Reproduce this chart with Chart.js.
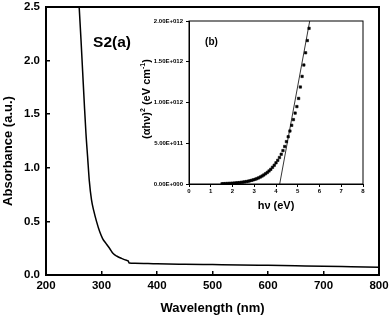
<!DOCTYPE html>
<html><head><meta charset="utf-8">
<script src="https://cdn.jsdelivr.net/npm/chart.js@4.4.0/dist/chart.umd.min.js"></script>
<style>
html,body{margin:0;padding:0;background:#fff;}
#wrap{position:relative;width:390px;height:317px;overflow:hidden;}
#main{position:absolute;left:0;top:0;}
#inset{position:absolute;left:128px;top:8px;}
</style></head><body>
<div id="wrap"><canvas id="main" width="390" height="317"></canvas><canvas id="inset" width="250" height="212"></canvas></div>
<script>
// ---- main panel: absorbance spectrum ----
const wavelength = [257, 260, 263, 266, 269, 272, 275, 278, 282, 286, 291, 297, 302, 308, 315, 321, 328, 336, 345, 348, 350, 360, 400, 450, 500, 550, 600, 650, 700, 750, 800];
const absorbance = [2.72, 2.48, 2.2, 1.9, 1.6, 1.32, 1.1, 0.88, 0.7, 0.6, 0.5, 0.4, 0.34, 0.295, 0.245, 0.2, 0.175, 0.155, 0.137, 0.132, 0.112, 0.11, 0.104, 0.1, 0.097, 0.094, 0.09, 0.086, 0.082, 0.077, 0.072];

// ---- inset: Tauc plot ----
const photonEnergy = [1.52, 1.60, 1.68, 1.76, 1.84, 1.92, 2.00, 2.08, 2.16, 2.24, 2.32, 2.40, 2.48, 2.56, 2.64, 2.72, 2.80, 2.88, 2.96, 3.04, 3.12, 3.20, 3.28, 3.36, 3.44, 3.52, 3.60, 3.68, 3.76, 3.84, 3.92, 4.00, 4.08, 4.16, 4.24, 4.32, 4.40, 4.48, 4.56, 4.64, 4.72, 4.80, 4.88, 4.96, 5.04, 5.12, 5.20, 5.28, 5.36, 5.44, 5.52];
const alphaHvSquared = [0.03e11, 0.04e11, 0.05e11, 0.06e11, 0.07e11, 0.08e11, 0.10e11, 0.11e11, 0.13e11, 0.15e11, 0.17e11, 0.20e11, 0.23e11, 0.26e11, 0.30e11, 0.34e11, 0.39e11, 0.45e11, 0.51e11, 0.58e11, 0.66e11, 0.75e11, 0.86e11, 0.98e11, 1.11e11, 1.26e11, 1.42e11, 1.60e11, 1.80e11, 2.05e11, 2.30e11, 2.60e11, 2.90e11, 3.25e11, 3.65e11, 4.10e11, 4.60e11, 5.20e11, 5.80e11, 6.50e11, 7.20e11, 7.90e11, 8.70e11, 9.50e11, 10.5e11, 11.9e11, 13.2e11, 14.6e11, 16.1e11, 17.6e11, 19.1e11];
const fitEnergy = [4.17, 5.55];
const fitValue = [0, 2.0e12];

const FONT = 'Liberation Sans, Arial, sans-serif';

function framePlugin(width) {
  return {
    id: 'frame' + width,
    afterDraw(chart) {
      const {ctx, chartArea: a} = chart;
      ctx.save();
      ctx.strokeStyle = '#000';
      ctx.lineWidth = width;
      ctx.strokeRect(a.left, a.top, a.right - a.left, a.bottom - a.top);
      ctx.restore();
    }
  };
}

function drawRich(ctx, x, y, rot, parts) {
  ctx.save();
  ctx.translate(x, y);
  ctx.rotate(rot);
  ctx.fillStyle = '#000';
  ctx.textBaseline = 'middle';
  ctx.textAlign = 'left';
  let total = 0;
  parts.forEach(p => { ctx.font = 'bold ' + p.s + 'px ' + FONT; p.w = ctx.measureText(p.t).width; total += p.w; });
  let cx = -total / 2;
  parts.forEach(p => {
    ctx.font = 'bold ' + p.s + 'px ' + FONT;
    ctx.fillText(p.t, cx, -(p.up || 0));
    cx += p.w;
  });
  ctx.restore();
}

const mainText = {
  id: 'mainText',
  afterDraw(chart) {
    const ctx = chart.ctx;
    drawRich(ctx, 112, 43, 0, [{t: 'S2(a)', s: 15.5}]);
    drawRich(ctx, 8.5, 151, -Math.PI / 2, [{t: 'Absorbance (a.u.)', s: 13}]);
  }
};

const insetText = {
  id: 'insetText',
  afterDraw(chart) {
    const ctx = chart.ctx;
    drawRich(ctx, 83.5, 34.5, 0, [{t: '(b)', s: 10}]);
    drawRich(ctx, 19, 91, -Math.PI / 2, [
      {t: '(\u03b1h\u03bd)', s: 11}, {t: '2', s: 7, up: 4},
      {t: ' (eV cm', s: 11}, {t: '-1', s: 7, up: 4}, {t: ')', s: 11}
    ]);
  }
};

function noPad(s) { s.paddingLeft = 0; s.paddingRight = 0; s.paddingTop = 0; s.paddingBottom = 0; }

new Chart(document.getElementById('main'), {
  type: 'scatter',
  data: {
    datasets: [{
      data: wavelength.map((w, i) => ({x: w, y: absorbance[i]})),
      showLine: true,
      borderColor: '#000',
      borderWidth: 1.5,
      pointRadius: 0,
      cubicInterpolationMode: 'monotone'
    }]
  },
  options: {
    responsive: false,
    animation: false,
    devicePixelRatio: 1,
    layout: {padding: {left: 0, top: 7, right: 11, bottom: 0}},
    plugins: {legend: {display: false}, tooltip: {enabled: false}},
    scales: {
      x: {
        type: 'linear', min: 200, max: 800,
        border: {color: '#000', width: 2},
        grid: {drawOnChartArea: false, tickLength: -4, color: '#000', lineWidth: 1.5},
        ticks: {stepSize: 100, autoSkip: false, maxRotation: 0, padding: 8, color: '#000',
                font: {family: FONT, weight: 'bold', size: 11.5}},
        title: {display: true, text: 'Wavelength (nm)', color: '#000',
                font: {family: FONT, weight: 'bold', size: 13}, padding: {top: 0, bottom: 1}},
        afterFit(s) { s.height = 42; noPad(s); }
      },
      y: {
        type: 'linear', min: 0, max: 2.5,
        border: {color: '#000', width: 2},
        grid: {drawOnChartArea: false, tickLength: -4, color: '#000', lineWidth: 1.5},
        ticks: {stepSize: 0.5, padding: 10, color: '#000', callback: v => v.toFixed(1),
                font: {family: FONT, weight: 'bold', size: 11.5}},
        afterFit(s) { s.width = 46; noPad(s); }
      }
    }
  },
  plugins: [framePlugin(2), mainText]
});

function sci(v) {
  if (v === 0) return '0.00E+000';
  const e = Math.floor(Math.log10(v) + 1e-9);
  const m = v / Math.pow(10, e);
  return m.toFixed(2) + 'E+' + String(e).padStart(3, '0');
}

new Chart(document.getElementById('inset'), {
  type: 'scatter',
  data: {
    datasets: [{
      data: photonEnergy.map((e, i) => ({x: e, y: alphaHvSquared[i]})),
      showLine: false,
      pointStyle: 'rect',
      pointRadius: 1.7,
      pointBorderWidth: 0.6,
      pointBackgroundColor: '#000',
      pointBorderColor: '#000'
    }, {
      data: fitEnergy.map((e, i) => ({x: e, y: fitValue[i]})),
      showLine: true,
      borderColor: '#000',
      borderWidth: 0.8,
      pointRadius: 0
    }]
  },
  options: {
    responsive: false,
    animation: false,
    devicePixelRatio: 1,
    layout: {padding: {left: 0, top: 13, right: 15, bottom: 0}},
    plugins: {legend: {display: false}, tooltip: {enabled: false}},
    scales: {
      x: {
        type: 'linear', min: 0, max: 8,
        border: {color: '#000', width: 1},
        grid: {drawOnChartArea: false, tickLength: 3, color: '#000', lineWidth: 1},
        ticks: {stepSize: 1, autoSkip: false, maxRotation: 0, padding: 1, color: '#000',
                font: {family: FONT, weight: 'bold', size: 6}},
        title: {display: true, text: 'h\u03bd (eV)', color: '#000',
                font: {family: FONT, weight: 'bold', size: 11}, padding: {top: 0, bottom: 7}},
        afterFit(s) { s.height = 36; noPad(s); }
      },
      y: {
        type: 'linear', min: 0, max: 2e12,
        border: {color: '#000', width: 1},
        grid: {drawOnChartArea: false, tickLength: 3, color: '#000', lineWidth: 1},
        ticks: {stepSize: 5e11, padding: 3, color: '#000', callback: v => sci(v),
                font: {family: FONT, weight: 'bold', size: 6}},
        afterFit(s) { s.width = 61; noPad(s); }
      }
    }
  },
  plugins: [framePlugin(1), insetText]
});
</script>
</body></html>
